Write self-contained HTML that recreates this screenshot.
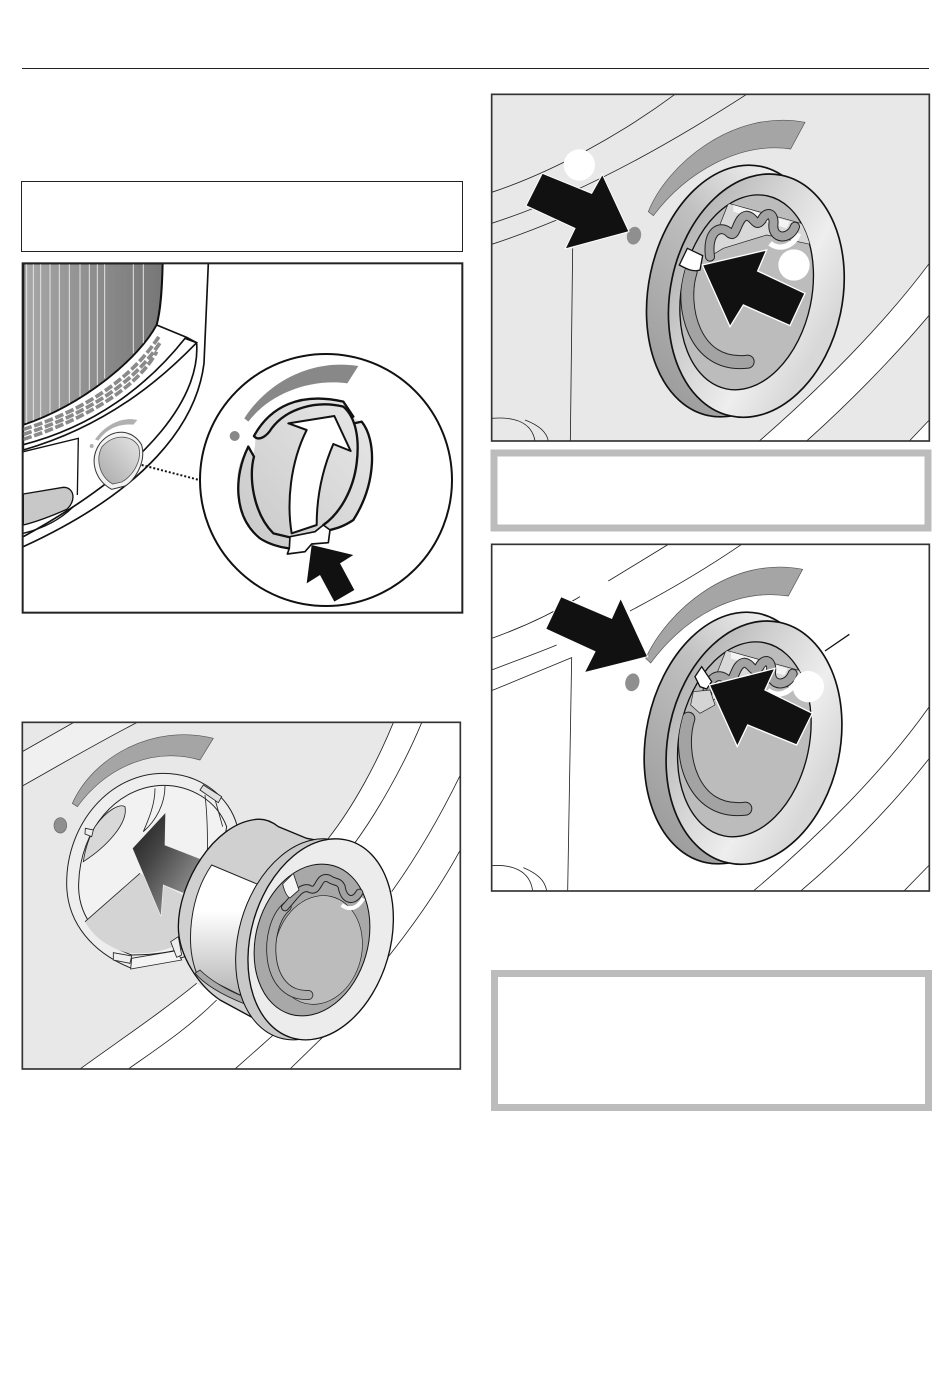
<!DOCTYPE html>
<html><head><meta charset="utf-8"><style>
html,body{margin:0;padding:0;background:#fff}
svg{display:block}
</style></head><body>
<svg xmlns="http://www.w3.org/2000/svg" width="950" height="1383" viewBox="0 0 950 1383">
<defs>
<linearGradient id="ringG" x1="0" y1="0" x2="1" y2=".45"><stop offset="0" stop-color="#a8a8a8"/><stop offset=".4" stop-color="#cfcfcf"/><stop offset=".75" stop-color="#eeeeee"/><stop offset="1" stop-color="#d8d8d8"/></linearGradient>
<linearGradient id="ringB" x1=".7" y1="0" x2=".2" y2="1"><stop offset="0" stop-color="#f8f8f8"/><stop offset=".4" stop-color="#c0c0c0"/><stop offset="1" stop-color="#999"/></linearGradient>
<linearGradient id="band" x1="0" y1="0" x2="0" y2="1"><stop offset="0" stop-color="#fff"/><stop offset=".35" stop-color="#fff"/><stop offset="1" stop-color="#b4b4b4"/></linearGradient>
<linearGradient id="arr" x1="0" y1="0" x2="1" y2="1"><stop offset="0" stop-color="#1a1a1a"/><stop offset=".35" stop-color="#444"/><stop offset="1" stop-color="#b0b0b0"/></linearGradient>
<linearGradient id="drum" x1="0" y1="0" x2="1" y2="0"><stop offset="0" stop-color="#a8a8a8"/><stop offset=".5" stop-color="#8e8e8e"/><stop offset="1" stop-color="#777"/></linearGradient>
<linearGradient id="knob" x1="0" y1="1" x2="1" y2="0"><stop offset="0" stop-color="#c8c8c8"/><stop offset="1" stop-color="#e8e8e8"/></linearGradient>
<linearGradient id="knobS" x1="0" y1="1" x2="1" y2="0"><stop offset="0" stop-color="#aaa"/><stop offset="1" stop-color="#e4e4e4"/></linearGradient>
<clipPath id="c1"><rect x="68" y="40" width="1319" height="1048"/></clipPath>
<clipPath id="c2"><rect x="67" y="37" width="1314" height="1040"/></clipPath>
<clipPath id="c3"><rect x="35" y="28" width="1313" height="1040"/></clipPath>
<clipPath id="hole"><ellipse cx="800" cy="622" rx="195" ry="296" transform="rotate(12 800 622)"/></clipPath>
<g id="ring">
  <ellipse cx="764" cy="618" rx="258" ry="382" transform="rotate(12 764 618)" fill="url(#ringB)" stroke="#111" stroke-width="5"/>
  <ellipse cx="829" cy="632" rx="258" ry="369" transform="rotate(12 829 632)" fill="url(#ringG)" stroke="#111" stroke-width="5"/>
  <ellipse cx="800" cy="622" rx="195" ry="296" transform="rotate(12 800 622)" fill="#bcbcbc" stroke="#111" stroke-width="4"/>
  <g clip-path="url(#hole)">
    <path d="M745,355 L1000,425 L1000,480 L860,450 L730,490 L680,520 Z" fill="#d8d8d8" stroke="#222" stroke-width="2"/>
    <path d="M760,360 L930,410 L920,430 L760,380Z" fill="#f4f4f4"/>
    <path d="M870,475 C900,500 945,480 955,445" fill="none" stroke="#fff" stroke-width="16"/>
    <path d="M632,560 C600,660 640,850 803,830" fill="none" stroke="#222" stroke-width="42" stroke-linecap="round"/>
    <path d="M632,560 C600,660 640,850 803,830" fill="none" stroke="#a3a3a3" stroke-width="36" stroke-linecap="round"/>
    <path d="M690,515 C680,440 720,415 750,445 C770,460 770,395 800,392 C825,395 825,430 845,405 C860,375 885,385 880,420 C878,465 930,465 945,425" fill="none" stroke="#222" stroke-width="30" stroke-linecap="round"/>
    <path d="M690,515 C680,440 720,415 750,445 C770,460 770,395 800,392 C825,395 825,430 845,405 C860,375 885,385 880,420 C878,465 930,465 945,425" fill="none" stroke="#a3a3a3" stroke-width="24" stroke-linecap="round"/>
  </g>
</g>
</defs>

<line x1="22" y1="68.5" x2="929" y2="68.5" stroke="#222" stroke-width="1"/>
<rect x="21.5" y="181.5" width="441" height="70" fill="#fff" stroke="#222" stroke-width="1"/>
<rect x="494" y="453" width="434" height="75" fill="#fff" stroke="#bcbcbc" stroke-width="7"/>
<rect x="494.5" y="973.5" width="434" height="134" fill="#fff" stroke="#bcbcbc" stroke-width="7"/>

<!-- Panel 1 -->
<g transform="translate(0,250) scale(.33333)">
  <g clip-path="url(#c1)">
    <path d="M70,40 H488 C486,120 482,180 470,225 C420,320 260,460 70,525Z" fill="url(#drum)" stroke="#111" stroke-width="6"/>
    <g stroke="#e4e4e4" stroke-width="3">
      <path d="M80,40V520M100,40V515M122,40V505M150,40V490M178,40V475M208,40V460M240,40V440M268,40V420M292,40V405M314,40V385M400,40V310M430,40V280"/>
    </g>
    <path d="M470,225 L560,262 L590,278 C520,350 350,520 70,600 L70,525 C260,460 420,320 470,225Z" fill="#fff" stroke="#111" stroke-width="5"/>
    <g fill="none" stroke="#8a8a8a" stroke-width="11" stroke-dasharray="26 8">
      <path d="M70,538 C260,480 400,380 480,255"/>
      <path d="M70,553 C270,490 410,390 482,275"/>
      <path d="M70,568 C280,500 420,400 470,305"/>
    </g>
    <path d="M70,584 C280,530 440,410 555,265 L590,278" fill="none" stroke="#111" stroke-width="5"/>
    <path d="M590,280 C600,430 470,640 70,860" fill="none" stroke="#111" stroke-width="5"/>
    <path d="M625,40 L612,340 C590,520 440,720 70,890" fill="none" stroke="#111" stroke-width="5"/>
    <path d="M70,605 L235,565 L232,735" fill="none" stroke="#111" stroke-width="4"/>
    <path d="M70,732 L190,712 C225,712 228,755 200,778 C150,800 110,815 70,825Z" fill="#c8c8c8" stroke="#111" stroke-width="4"/>
    <path d="M70,850 C130,835 180,810 220,770" fill="none" stroke="#111" stroke-width="4"/>
    <!-- small knob -->
    <path d="M285,568 C320,520 370,500 412,510 L400,524 C360,520 320,535 295,572Z" fill="#b0b0b0"/>
    <circle cx="275" cy="588" r="6" fill="#b0b0b0"/>
    <path d="M300,580 C340,530 400,540 425,585 C440,640 400,695 375,708 L335,718 C285,690 265,630 300,580Z" fill="#f2f2f2" stroke="#333" stroke-width="3"/>
    <path d="M306,590 C345,548 398,556 416,590 C428,635 395,680 365,696 L338,702 C300,680 285,630 306,590Z" fill="url(#knobS)" stroke="#555" stroke-width="2.5"/>
    <line x1="425" y1="645" x2="598" y2="690" stroke="#111" stroke-width="6" stroke-dasharray="6 6"/>
    <!-- big circle -->
    <circle cx="978" cy="690" r="378" fill="#fff" stroke="#111" stroke-width="6"/>
    <path d="M733,505 C800,400 930,325 1075,348 L1042,400 C930,385 810,430 745,515Z" fill="#888"/>
    <circle cx="704" cy="558" r="15" fill="#888"/>
    <!-- knob fill -->
    <path d="M762,558 C810,470 900,425 1030,455 L1060,505 L1085,515 C1130,570 1130,700 1060,810 L990,845 L975,870 L870,900 C800,880 730,850 715,720 C705,660 725,620 745,590 L760,620 C750,640 775,575 762,558Z" fill="url(#knob)"/>
    <g fill="none" stroke="#111" stroke-width="7" stroke-linejoin="round" stroke-linecap="round">
      <path d="M745,590 C700,680 700,800 780,865 C805,882 840,892 865,895"/>
      <path d="M745,590 L762,620 C745,680 760,790 820,850 L870,862"/>
      <path d="M762,558 C810,470 900,425 1030,455 L1060,500"/>
      <path d="M762,558 C775,575 800,560 815,535 C860,475 950,450 1030,470 C1065,500 1080,560 1070,640 C1060,720 1020,790 970,825"/>
      <path d="M1062,520 L1085,515 C1130,570 1130,700 1060,810 C1030,830 1010,835 990,840"/>
    </g>
    <path d="M865,520 L1003,498 L1052,603 L1000,582 C975,640 950,720 950,825 L875,850 C860,760 870,640 920,540Z" fill="#fff" stroke="#111" stroke-width="6" stroke-linejoin="round"/>
    <path d="M870,860 L945,845 L970,825 L990,840 L985,878 L935,882 L915,905 L862,912 L868,895Z" fill="#fff" stroke="#111" stroke-width="5" stroke-linejoin="round"/>
    <path d="M935,885 L1060,915 L1020,940 L1063,1020 L1003,1055 L960,975 L920,1000Z" fill="#111"/>
  </g>
  <rect x="68" y="40" width="1319" height="1048" fill="none" stroke="#222" stroke-width="6"/>
</g>

<!-- Panel 2 -->
<g transform="translate(0,710) scale(.33333)">
  <g clip-path="url(#c2)">
    <rect x="67" y="37" width="1314" height="1040" fill="#fff"/>
    <path d="M67,37 H1180 C1130,160 1060,290 985,385 L780,935 L590,820 C480,910 360,990 240,1077 H67Z" fill="#e8e8e8"/>
    <path d="M67,125 L220,37 H410 C290,100 170,170 67,228Z" fill="#f0f0f0"/>
    <g fill="none" stroke="#222" stroke-width="2.5">
      <path d="M67,125 L220,38M67,228 C170,170 290,100 410,38"/>
      <path d="M985,385 C1060,290 1130,160 1180,38"/>
      <path d="M1060,405 C1130,310 1210,170 1265,38"/>
      <path d="M1175,545 C1250,440 1320,320 1381,195"/>
      <path d="M1145,765 C1230,660 1310,550 1381,420"/>
      <path d="M240,1077 C360,990 480,910 590,820"/>
      <path d="M385,1077 C480,1010 570,950 650,870"/>
      <path d="M705,1077 L820,975"/>
      <path d="M870,1077 L985,965"/>
    </g>
    <path d="M217,280 C280,140 460,40 640,85 L600,150 C460,110 320,170 232,290Z" fill="#a5a5a5" stroke="#555" stroke-width="2"/>
    <ellipse cx="181" cy="346" rx="19" ry="23" fill="#8f8f8f" stroke="#666" stroke-width="2"/>
    <!-- socket -->
    <path d="M200,520 C200,340 330,190 490,190 C600,190 690,260 712,350 L640,700 C560,750 480,760 395,775 C280,730 200,640 200,520Z" fill="#eeeeee" stroke="#222" stroke-width="3"/>
    <path d="M236,520 C240,360 350,228 490,226 C570,226 650,270 680,350 L620,690 C540,725 470,735 395,735 C300,700 232,620 236,520Z" fill="#f2f2f2" stroke="#222" stroke-width="3"/>
    <path d="M255,635 L420,490 L600,580 L560,690 C500,725 440,735 380,728 C320,710 280,680 255,635Z" fill="#d4d4d4"/>
    <path d="M255,635 L420,490" stroke="#222" stroke-width="2.5"/>
    <path d="M285,350 C320,300 360,280 375,290 C385,340 320,410 250,455 C255,420 265,385 285,350Z" fill="#d8d8d8" stroke="#222" stroke-width="2.5"/>
    <path d="M430,365 C470,330 495,280 495,228 M465,235 C465,290 440,340 430,365 M615,255 C625,340 622,400 622,440 M668,350 L640,250" fill="none" stroke="#222" stroke-width="2.5"/>
    <path d="M610,225 L665,260 L655,278 L600,240Z" fill="#e0e0e0" stroke="#222" stroke-width="2.5"/>
    <path d="M256,355 L280,360 L275,380 L255,372Z" fill="#eee" stroke="#222" stroke-width="2.5"/>
    <path d="M340,728 L395,738 L390,760 L340,750Z" fill="#eee" stroke="#222" stroke-width="2.5"/>
    <path d="M395,745 L530,722 L545,750 L392,777Z" fill="#f4f4f4" stroke="#222" stroke-width="2.5"/>
    <path d="M512,695 L535,680 L545,735 L530,742Z" fill="#eee" stroke="#222" stroke-width="2.5"/>
    <path d="M497,307 L495,405 L610,450 L550,550 L490,525 L483,620 L397,415Z" fill="url(#arr)" stroke="#eee" stroke-width="2"/>
    <!-- cylinder -->
    <path d="M770,328 C640,340 535,520 535,650 C535,740 600,830 660,870 L780,935 L1000,400 L920,385 L835,350 C810,330 790,326 770,328Z" fill="#d0d0d0" stroke="#111" stroke-width="4"/>
    <path d="M635,465 L790,530 L730,860 L590,790 C555,700 570,560 635,465Z" fill="url(#band)" stroke="#222" stroke-width="3"/>
    <path d="M585,790 C620,830 680,860 730,880 L730,860 C680,840 630,810 600,780Z" fill="#a8a8a8" stroke="#222" stroke-width="2.5"/>
    <!-- flange + front ring -->
    <ellipse cx="925" cy="688" rx="209" ry="308" transform="rotate(16 925 688)" fill="#c8c8c8" stroke="#111" stroke-width="3"/>
    <ellipse cx="962" cy="688" rx="209" ry="308" transform="rotate(16 962 688)" fill="#ececec" stroke="#111" stroke-width="4"/>
    <ellipse cx="936" cy="690" rx="168" ry="232" transform="rotate(16 936 690)" fill="#a8a8a8" stroke="#111" stroke-width="3"/>
    <ellipse cx="955" cy="720" rx="130" ry="165" transform="rotate(14 955 720)" fill="#bcbcbc" stroke="#222" stroke-width="2"/>
    <path d="M860,590 C790,650 790,860 925,855" fill="none" stroke="#222" stroke-width="30" stroke-linecap="round"/>
    <path d="M860,590 C790,650 790,860 925,855" fill="none" stroke="#adadad" stroke-width="25" stroke-linecap="round"/>
    <path d="M1025,585 C1045,600 1070,600 1090,565" fill="none" stroke="#fff" stroke-width="12"/>
    <path d="M855,592 C885,560 900,530 925,535 C960,555 950,495 985,505 C1005,520 1015,510 1025,530 C1030,570 1060,580 1078,548" fill="none" stroke="#222" stroke-width="24" stroke-linecap="round"/>
    <path d="M855,592 C885,560 900,530 925,535 C960,555 950,495 985,505 C1005,520 1015,510 1025,530 C1030,570 1060,580 1078,548" fill="none" stroke="#a2a2a2" stroke-width="18" stroke-linecap="round"/>
    <path d="M848,522 L880,490 L897,540 L870,564 C860,560 852,540 848,522Z" fill="#f5f5f5" stroke="#222" stroke-width="2.5"/>
  </g>
  <rect x="67" y="37" width="1314" height="1040" fill="none" stroke="#333" stroke-width="5"/>
</g>

<!-- Panel 3 -->
<g transform="translate(480,85) scale(.33333)">
  <g clip-path="url(#c3)">
    <rect x="35" y="28" width="1313" height="1040" fill="#e8e8e8"/>
    <path d="M838,1068 C1020,910 1210,720 1348,535 V690 C1230,830 1100,960 980,1068Z" fill="#fff"/>
    <path d="M1288,1068 L1348,1005 V1068Z" fill="#fff"/>
    <g fill="none" stroke="#222" stroke-width="2.5">
      <path d="M35,322 C220,260 420,150 585,28"/>
      <path d="M35,415 C300,330 580,170 800,28"/>
      <path d="M35,478 C120,450 170,430 230,405"/>
      <path d="M278,490 L271,1068"/>
      <path d="M35,1000 C100,995 155,1010 165,1068"/>
      <path d="M135,1005 C175,1020 200,1040 205,1068"/>
      <path d="M838,1068 C1020,910 1210,720 1348,535"/>
      <path d="M980,1068 C1100,960 1230,830 1348,690"/>
      <path d="M1288,1068 L1348,1005"/>
    </g>
    <path d="M505,380 C560,240 760,70 975,112 L932,192 C780,170 620,260 520,392Z" fill="#a5a5a5" stroke="#555" stroke-width="2"/>
    <ellipse cx="462" cy="452" rx="21" ry="27" transform="rotate(15 462 452)" fill="#8f8f8f"/>
    <use href="#ring"/>
    <path d="M598,540 L622,490 L668,512 L660,555 C640,562 620,552 598,540Z" fill="#fff" stroke="#111" stroke-width="4"/>
    <polygon points="187,265 335,325 367,268 447,440 255,492 285,430 138,362" fill="#111" stroke="#fff" stroke-width="3"/>
    <polygon points="667,540 860,495 833,558 975,625 930,722 790,660 750,725" fill="#111" stroke="#fff" stroke-width="4"/>
    <circle cx="298" cy="240" r="47" fill="#fff"/>
    <circle cx="942" cy="540" r="47" fill="#fff"/>
  </g>
  <rect x="35" y="28" width="1313" height="1040" fill="none" stroke="#333" stroke-width="5"/>
</g>

<!-- Panel 4 -->
<g transform="translate(480,535) scale(.33333)">
  <g clip-path="url(#c3)">
    <rect x="35" y="28" width="1313" height="1040" fill="#fff"/>
    <g fill="none" stroke="#222" stroke-width="2.5">
      <path d="M385,138 L565,28"/>
      <path d="M35,310 C120,280 210,240 300,185"/>
      <path d="M450,228 C560,170 680,100 785,28"/>
      <path d="M35,405 C100,380 170,355 230,330"/>
      <path d="M35,467 L275,368 L263,1068"/>
      <path d="M35,992 C95,988 150,1005 158,1068"/>
      <path d="M130,998 C170,1015 195,1035 200,1068"/>
      <path d="M820,1068 C1010,910 1210,710 1348,515"/>
      <path d="M962,1068 C1090,960 1230,820 1348,670"/>
      <path d="M1272,1068 L1348,990"/>
    </g>
    <path d="M497,370 C560,230 750,60 968,103 L925,183 C770,160 620,240 512,384Z" fill="#a5a5a5" stroke="#555" stroke-width="2"/>
    <ellipse cx="457" cy="442" rx="21" ry="27" transform="rotate(15 457 442)" fill="#8f8f8f"/>
    <g transform="translate(-7,-9)"><use href="#ring"/></g>
    <line x1="1035" y1="348" x2="1108" y2="298" stroke="#111" stroke-width="4"/>
    <path d="M640,470 L690,465 L705,510 L660,535 L632,510Z" fill="#d4d4d4" stroke="#222" stroke-width="2"/>
    <path d="M645,425 L665,395 L695,440 L680,462 L660,455Z" fill="#fff" stroke="#111" stroke-width="4"/>
    <polygon points="243,185 395,250 422,190 503,365 313,413 345,350 197,282" fill="#111" stroke="#fff" stroke-width="3"/>
    <polygon points="688,450 885,400 855,465 997,535 950,630 803,570 772,635" fill="#111" stroke="#fff" stroke-width="4"/>
    <circle cx="985" cy="455" r="47" fill="#fff"/>
  </g>
  <rect x="35" y="28" width="1313" height="1040" fill="none" stroke="#333" stroke-width="5"/>
</g>
</svg>
</body></html>
